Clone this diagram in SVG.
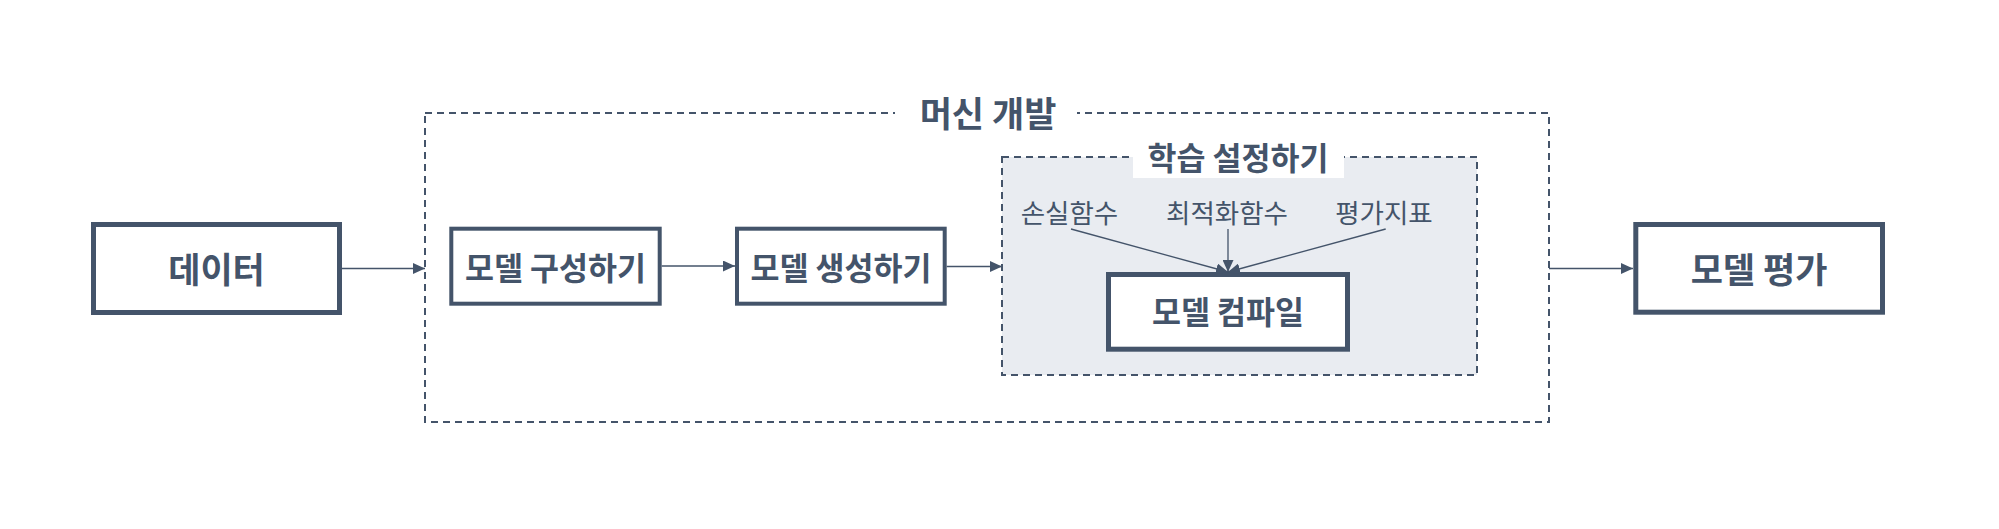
<svg xmlns="http://www.w3.org/2000/svg" width="1999" height="529" viewBox="0 0 1999 529">
<style>
  .node rect { fill: #ffffff; stroke: #44546A; }
  .big { stroke-width: 5; }
  .mid { stroke-width: 4; }
  text { font-family: "Noto Sans CJK KR", "Noto Sans", sans-serif; fill: #44546A; text-anchor: middle; dominant-baseline: central; }
  .t1 { font-size: 35px; font-weight: bold; }
  .t2 { font-size: 31.5px; font-weight: bold; }
  .t3 { font-size: 26.5px; font-weight: normal; }
  .dash { fill: none; stroke: #44546A; stroke-width: 2; stroke-dasharray: 7 5; }
  .conn line { stroke: #44546A; stroke-width: 1.3; marker-end: url(#arr); }
</style>
<defs>
  <marker id="arr" markerUnits="userSpaceOnUse" markerWidth="12" markerHeight="11" refX="12" refY="5.5" orient="auto">
    <path d="M0,0 L12,5.5 L0,11 z" fill="#44546A"/>
  </marker>
</defs>
<rect width="1999" height="529" fill="#ffffff"/>

<g id="group-machine">
  <rect class="dash" x="425" y="113" width="1124" height="309"/>
  <rect x="895" y="94" width="182" height="36" fill="#ffffff"/>
  <text class="t1" x="988" y="111">머신 개발</text>
</g>

<g id="group-training">
  <rect x="1002" y="157" width="475" height="218" fill="#E9ECF1" stroke="#44546A" stroke-width="2" stroke-dasharray="7 5"/>
  <rect x="1133" y="138" width="211" height="40" fill="#ffffff"/>
  <text class="t2" x="1238" y="156">학습 설정하기</text>
</g>

<g id="label-loss"><text class="t3" x="1069.5" y="211">손실함수</text></g>
<g id="label-optimizer"><text class="t3" x="1227" y="211">최적화함수</text></g>
<g id="label-metric"><text class="t3" x="1384" y="211">평가지표</text></g>

<g id="node-data" class="node">
  <rect class="big" x="93.5" y="224.5" width="246" height="88"/>
  <text class="t1" x="216.5" y="267.5">데이터</text>
</g>
<g id="node-build" class="node">
  <rect class="mid" x="451.3" y="228.7" width="208.4" height="75"/>
  <text class="t2" x="555.5" y="265.5">모델 구성하기</text>
</g>
<g id="node-create" class="node">
  <rect class="mid" x="737" y="228.7" width="207.7" height="75"/>
  <text class="t2" x="841" y="265.5">모델 생성하기</text>
</g>
<g id="node-compile" class="node">
  <rect class="big" x="1108.5" y="274.5" width="239" height="74.7"/>
  <text class="t2" x="1228" y="310">모델 컴파일</text>
</g>
<g id="node-eval" class="node">
  <rect class="big" x="1635.8" y="224.5" width="246.7" height="87.7"/>
  <text class="t1" x="1759" y="267.5">모델 평가</text>
</g>

<g id="connectors" class="conn">
  <line x1="342" y1="268.5" x2="425" y2="268.5"/>
  <line x1="661.7" y1="266" x2="735" y2="266"/>
  <line x1="946.7" y1="266.5" x2="1002" y2="266.5"/>
  <line x1="1549" y1="268.5" x2="1633" y2="268.5"/>
  <line x1="1071" y1="229" x2="1228" y2="272"/>
  <line x1="1228" y1="229" x2="1228" y2="272"/>
  <line x1="1385.7" y1="229" x2="1228" y2="272"/>
</g>
</svg>
